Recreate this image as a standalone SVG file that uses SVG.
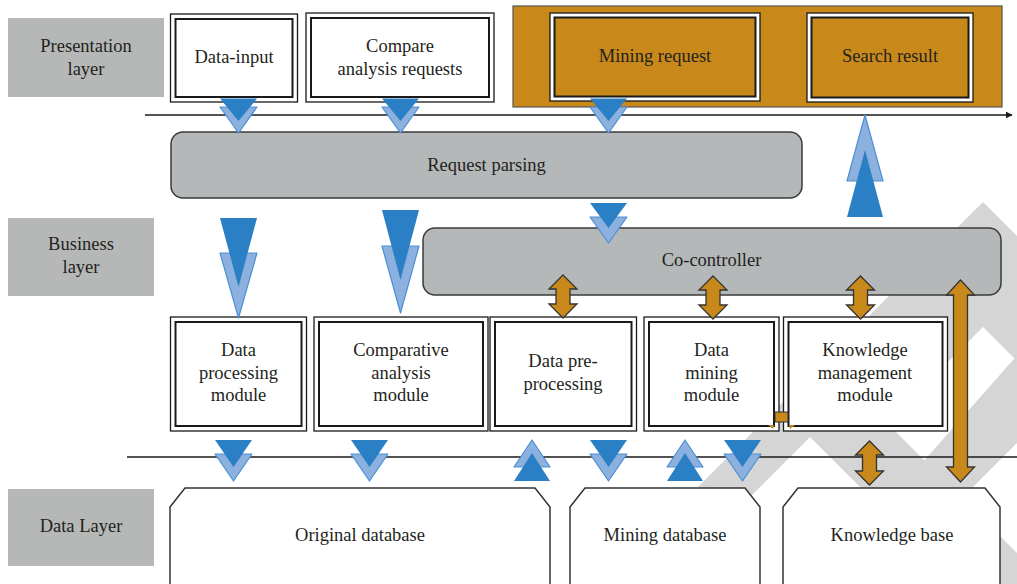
<svg xmlns="http://www.w3.org/2000/svg" width="1017" height="584" viewBox="0 0 1017 584">
  <defs>
    <style>
      text { font-family: "Liberation Serif", "Times New Roman", serif; font-size: 18.5px; fill: #231f20; text-anchor: middle; }
      .layer { fill: #b6b8b8; }
      .outer { fill: #ffffff; stroke: #1a1a1a; stroke-width: 1.3; }
      .inner { fill: #ffffff; stroke: #1a1a1a; stroke-width: 2; }
      .inner-o { fill: #c8891a; stroke: #1a1a1a; stroke-width: 2; }
      .panel { fill: #b5b8b8; stroke: #3a3a3a; stroke-width: 1.5; }
      .store { fill: #ffffff; stroke: #333333; stroke-width: 1.5; }
      .rule { stroke: #1a1a1a; stroke-width: 1.3; fill: none; }
      .bd { fill: #2b7fc4; }
      .bl { fill: #8db1de; stroke: #4a8fd6; stroke-width: 1.2; stroke-linejoin: round; }
      .oa { fill: #c8891a; stroke: #333333; stroke-width: 1.3; stroke-linejoin: miter; }
      .mark { fill: #d5d5d5; }
    </style>
    <marker id="axis-head" viewBox="0 0 10 10" refX="9" refY="5" markerWidth="7" markerHeight="7" orient="auto" markerUnits="userSpaceOnUse">
      <path d="M0,0 L10,5 L0,10 Z" fill="#1a1a1a"/>
    </marker>
  </defs>

  <!-- background emblem -->
  <g id="emblem">
    <polygon class="mark" points="983,202 1120,339 1120,464 983,327 887,423 1048,584 957,584 810,437 663,584 601,584"/>
    <polygon class="mark" points="1040,333 1040,420 972,488 900,488 1013,360"/>
  </g>

  <!-- layer separators -->
  <g id="separators">
    <line class="rule" x1="145" y1="115" x2="1012" y2="115" marker-end="url(#axis-head)"/>
    <line class="rule" x1="127" y1="457" x2="1017" y2="457"/>
  </g>

  <!-- layer labels -->
  <g id="label-presentation">
    <rect class="layer" x="8" y="18" width="156" height="79"/>
    <text x="86" y="52">Presentation</text>
    <text x="86" y="75">layer</text>
  </g>
  <g id="label-business">
    <rect class="layer" x="8" y="218" width="146" height="78"/>
    <text x="81" y="250">Business</text>
    <text x="81" y="273">layer</text>
  </g>
  <g id="label-data">
    <rect class="layer" x="8" y="489" width="146" height="77"/>
    <text x="81" y="532">Data Layer</text>
  </g>

  <!-- presentation layer -->
  <g id="data-input">
    <rect class="outer" x="170.5" y="14" width="127" height="88"/>
    <rect class="inner" x="175.5" y="19" width="117" height="78"/>
    <text x="234" y="63">Data-input</text>
  </g>
  <g id="compare-requests">
    <rect class="outer" x="306" y="13" width="188" height="89"/>
    <rect class="inner" x="311" y="18" width="178" height="79"/>
    <text x="400" y="52">Compare</text>
    <text x="400" y="75">analysis requests</text>
  </g>
  <g id="user-panel">
    <rect x="513" y="6" width="489" height="101" fill="#c8891a" stroke="#555555" stroke-width="1.2"/>
  </g>
  <g id="mining-request">
    <rect class="outer" x="550" y="13" width="210" height="88"/>
    <rect class="inner-o" x="554.5" y="17.5" width="201" height="79"/>
    <text x="655" y="62">Mining request</text>
  </g>
  <g id="search-result">
    <rect class="outer" x="807" y="13" width="166" height="89"/>
    <rect class="inner-o" x="811.5" y="17.5" width="157" height="80"/>
    <text x="890" y="62">Search result</text>
  </g>

  <!-- business layer -->
  <g id="request-parsing">
    <rect class="panel" x="171" y="132" width="631" height="66" rx="12"/>
    <text x="486.5" y="171">Request parsing</text>
  </g>
  <g id="co-controller">
    <rect class="panel" x="423" y="228" width="578" height="67" rx="12"/>
    <text x="711.5" y="266">Co-controller</text>
  </g>

  <g id="data-processing">
    <rect class="outer" x="170.5" y="317" width="136" height="114"/>
    <rect class="inner" x="175.5" y="322" width="126" height="104"/>
    <text x="238.5" y="356">Data</text>
    <text x="238.5" y="379">processing</text>
    <text x="238.5" y="401">module</text>
  </g>
  <g id="comparative-analysis">
    <rect class="outer" x="314" y="317" width="174" height="114"/>
    <rect class="inner" x="319" y="322" width="164" height="104"/>
    <text x="401" y="356">Comparative</text>
    <text x="401" y="379">analysis</text>
    <text x="401" y="401">module</text>
  </g>
  <g id="pre-processing">
    <rect class="outer" x="490" y="317" width="146.5" height="114"/>
    <rect class="inner" x="495" y="322" width="136.5" height="104"/>
    <text x="563" y="367">Data pre-</text>
    <text x="563" y="390">processing</text>
  </g>
  <g id="data-mining">
    <rect class="outer" x="644" y="317" width="135" height="114"/>
    <rect class="inner" x="649" y="322" width="125" height="104"/>
    <text x="711.5" y="356">Data</text>
    <text x="711.5" y="379">mining</text>
    <text x="711.5" y="401">module</text>
  </g>
  <g id="knowledge-management">
    <rect class="outer" x="783.5" y="317" width="164" height="114"/>
    <rect class="inner" x="788.5" y="322" width="154" height="104"/>
    <text x="865" y="356">Knowledge</text>
    <text x="865" y="379">management</text>
    <text x="865" y="401">module</text>
  </g>

  <!-- data layer -->
  <g id="original-database">
    <path class="store" d="M170,507 L185,488 L535,488 L550,507 L550,590 L170,590 Z"/>
    <text x="360" y="541">Original database</text>
  </g>
  <g id="mining-database">
    <path class="store" d="M570,507 L585,488 L745,488 L760,507 L760,590 L570,590 Z"/>
    <text x="665" y="541">Mining database</text>
  </g>
  <g id="knowledge-base">
    <path class="store" d="M783,507 L798,488 L985,488 L1000,507 L1000,590 L783,590 Z"/>
    <text x="892" y="541">Knowledge base</text>
  </g>

  <!-- connectors -->
  <g id="connectors">
    <!-- presentation to request parsing -->
    <polygon class="bl" points="220,107 257,107 238.5,133"/>
    <polygon class="bd" points="220,98.5 257,98.5 238.5,121"/>
    <polygon class="bl" points="382,107 419,107 400.5,133"/>
    <polygon class="bd" points="382,98.5 419,98.5 400.5,121"/>
    <polygon class="bl" points="590,107 627,107 608.5,133"/>
    <polygon class="bd" points="590,98.5 627,98.5 608.5,121"/>

    <!-- request parsing to co-controller -->
    <polygon class="bl" points="590,217 627,217 608.5,243"/>
    <polygon class="bd" points="590,203 627,203 608.5,228"/>

    <!-- request parsing to modules -->
    <polygon class="bl" points="220,253 257,253 238.5,318"/>
    <polygon class="bd" points="220,218 257,218 238.5,287"/>
    <polygon class="bl" points="382,246 419,246 400.5,313"/>
    <polygon class="bd" points="382,210 419,210 400.5,280"/>

    <!-- result back to presentation -->
    <polygon class="bl" points="865,115 883,181 847,181"/>
    <polygon class="bd" points="865,150 883,217 847,217"/>

    <!-- modules and stores -->
    <polygon class="bl" points="215,454 252,454 233.5,481"/>
    <polygon class="bd" points="215,440 252,440 233.5,467"/>
    <polygon class="bl" points="351,454 388,454 369.5,481"/>
    <polygon class="bd" points="351,440 388,440 369.5,467"/>
    <polygon class="bl" points="532,440 550,467 514,467"/>
    <polygon class="bd" points="532,453 550,481 514,481"/>
    <polygon class="bl" points="590,454 627,454 608.5,481"/>
    <polygon class="bd" points="590,440 627,440 608.5,467"/>
    <polygon class="bl" points="685,440 703,467 667,467"/>
    <polygon class="bd" points="685,453 703,481 667,481"/>
    <polygon class="bl" points="724,454 761,454 742.5,481"/>
    <polygon class="bd" points="724,440 761,440 742.5,467"/>

    <!-- co-controller to modules -->
    <path class="oa" d="M563,275 L577,289 L570,289 L570,304 L577,304 L563,318 L549,304 L556,304 L556,289 L549,289 Z"/>
    <path class="oa" d="M713,276 L727,290 L720,290 L720,305 L727,305 L713,319 L699,305 L706,305 L706,290 L699,290 Z"/>
    <path class="oa" d="M860.5,276 L874.5,290 L867.5,290 L867.5,305 L874.5,305 L860.5,319 L846.5,305 L853.5,305 L853.5,290 L846.5,290 Z"/>

    <!-- knowledge links -->
    <path class="oa" d="M869.5,441 L883.5,455 L876.5,455 L876.5,471 L883.5,471 L869.5,485 L855.5,471 L862.5,471 L862.5,455 L855.5,455 Z"/>
    <path class="oa" d="M960.5,280 L974.5,295 L967.5,295 L967.5,467 L974.5,467 L960.5,482 L946.5,467 L953.5,467 L953.5,295 L946.5,295 Z"/>

    <!-- mining to knowledge management link -->
    <rect x="775" y="412" width="13" height="10" fill="#c8891a" stroke="#333333" stroke-width="1"/>
    <polygon points="768,425 774,425 773,429" fill="#c8891a"/>
    <polygon points="789,425 795,425 790,429" fill="#c8891a"/>
  </g>
</svg>
